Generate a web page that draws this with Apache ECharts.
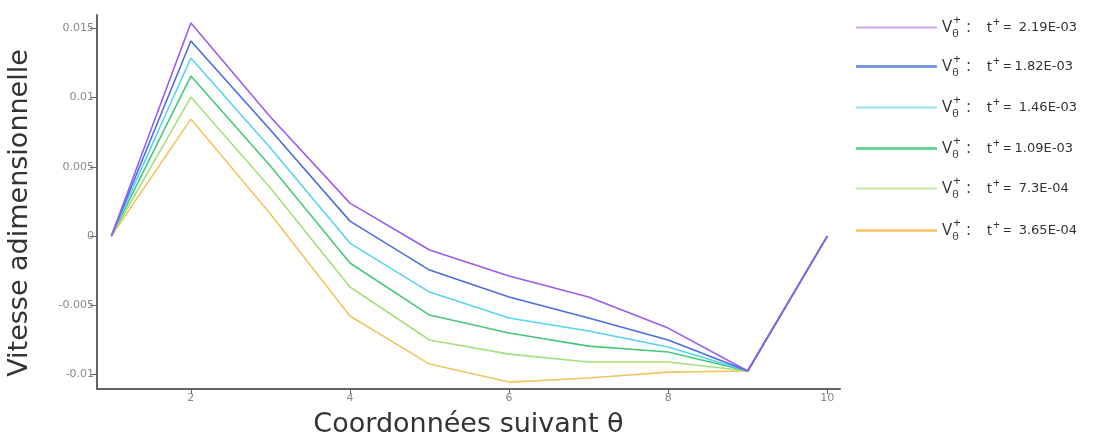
<!DOCTYPE html>
<html><head><meta charset="utf-8">
<script src="https://cdn.jsdelivr.net/npm/echarts@6/dist/echarts.min.js"></script>
<style>html,body{margin:0;padding:0;background:#fff}#c{width:1098px;height:434px}</style>
</head><body><div id="c"></div>
<script>
const xValues = [1, 2, 3, 4, 5, 6, 7, 8, 9, 10];
const tLabels = ['2.19E-03', '1.82E-03', '1.46E-03', '1.09E-03', '7.3E-04', '3.65E-04'];
const v219 = [0, 0.01539, 0.0086, 0.00238, -0.00101, -0.00289, -0.00441, -0.00665, -0.00975, 0];
const v182 = [0, 0.01409, 0.00766, 0.00108, -0.00246, -0.00441, -0.00592, -0.00751, -0.00975, 0];
const v146 = [0, 0.01286, 0.00636, -0.00051, -0.00405, -0.00592, -0.00686, -0.00802, -0.00975, 0];
const v109 = [0, 0.01156, 0.00506, -0.00195, -0.00571, -0.00701, -0.00795, -0.00838, -0.00975, 0];
const v073 = [0, 0.01004, 0.00347, -0.00368, -0.00751, -0.00853, -0.0091, -0.0091, -0.00975, 0];
const v0365 = [0, 0.00845, 0.00159, -0.00578, -0.00925, -0.01055, -0.01026, -0.00983, -0.00975, 0];
const xTicks = [2, 4, 6, 8, 10];
const yTicks = [-0.01, -0.005, 0, 0.005, 0.01, 0.015];

const allVals = [v219, v182, v146, v109, v073, v0365];
const lineColors = ['#9a5cf0', '#4a6ee0', '#55d5ee', '#48c878', '#a6e07a', '#f2c462'];
const legendColors = ['#c9a6ef', '#7a9ae6', '#8fe6ef', '#6fd49a', '#c3ec9f', '#f5cf7a'];
const legendThick = [2, 3, 2, 3, 2, 3];
const legendTops = [9, 48, 89, 130, 170, 212];

const names = tLabels.map((t, i) => 'S' + i);
const series = allVals.map((vals, i) => ({
  name: names[i],
  type: 'line',
  data: xValues.map((x, k) => [x, vals[k]]),
  showSymbol: false,
  symbol: 'none',
  lineStyle: { color: lineColors[i], width: 1.6 },
  itemStyle: { color: lineColors[i] },
  z: 10 - i
}));

const legends = names.map((n, i) => ({
  data: [{ name: n, itemStyle: { color: legendColors[i] } }],
  left: 851,
  top: legendTops[i],
  icon: 'rect',
  itemWidth: 81,
  itemHeight: legendThick[i],
  itemGap: 0,
  selectedMode: false,
  formatter: () => '{v|V}{sub|θ}{sup|+}{c|:}{t|t}{tp|+}{eq|=}{n|' + (i === 0 || i === 2 || i === 4 || i === 5 ? ' ' : '') + tLabels[i] + '}',
  textStyle: {
    fontFamily: 'Open Sans',
    color: '#333',
    padding: [0, 0, 0, 0],
    rich: {
      v: { fontSize: 17, fontFamily: 'Open Sans', color: '#333' },
      sub: { fontSize: 11, fontFamily: 'Open Sans', color: '#333', padding: [12, 0, 0, 0], width: 1 },
      sup: { fontSize: 13, fontFamily: 'Open Sans', color: '#333', padding: [0, 0, 14, 0] },
      c: { fontSize: 16, fontFamily: 'Open Sans', color: '#333', padding: [0, 16, 0, 6] },
      t: { fontSize: 15, fontFamily: 'Open Sans', color: '#333' },
      tp: { fontSize: 12, fontFamily: 'Open Sans', color: '#333', padding: [0, 3, 10, 1] },
      eq: { fontSize: 15, fontFamily: 'Open Sans', color: '#333', padding: [0, 3, 0, 0] },
      n: { fontSize: 13, fontFamily: 'DejaVu Sans', color: '#333' }
    }
  }
}));

const chart = echarts.init(document.getElementById('c'));
chart.setOption({
  animation: false,
  backgroundColor: '#fff',
  grid: { left: 97, top: 15, right: 258, bottom: 45, outerBoundsMode: 'none', containLabel: false },
  legend: legends,
  xAxis: {
    type: 'value',
    min: 0.82,
    max: 10.16,
    name: 'Coordonnées suivant θ',
    nameLocation: 'middle',
    nameGap: 22,
    nameTextStyle: { fontSize: 27, color: '#333', fontFamily: 'DejaVu Sans' },
    axisLine: { show: true, onZero: false, lineStyle: { color: '#666', width: 2 } },
    axisTick: { show: true, customValues: xTicks, length: 5, lineStyle: { color: '#666' } },
    axisLabel: { customValues: xTicks, fontSize: 11, color: '#888', margin: 4, fontFamily: 'DejaVu Sans' },
    splitLine: { show: false }
  },
  yAxis: {
    type: 'value',
    min: -0.01105,
    max: 0.01597,
    name: 'Vitesse adimensionnelle',
    nameLocation: 'middle',
    nameGap: 64,
    nameRotate: 90,
    nameTextStyle: { fontSize: 27, color: '#333', fontFamily: 'DejaVu Sans', padding: [0, 22, 0, 0] },
    axisLine: { show: true, onZero: false, lineStyle: { color: '#666', width: 2 } },
    axisTick: { show: true, customValues: yTicks, length: 7, lineStyle: { color: '#666' } },
    axisLabel: { customValues: yTicks, fontSize: 11, color: '#888', margin: 3, fontFamily: 'DejaVu Sans',
      formatter: v => String(parseFloat(v.toFixed(4))) },
    splitLine: { show: false }
  },
  series: series
});
</script></body></html>
